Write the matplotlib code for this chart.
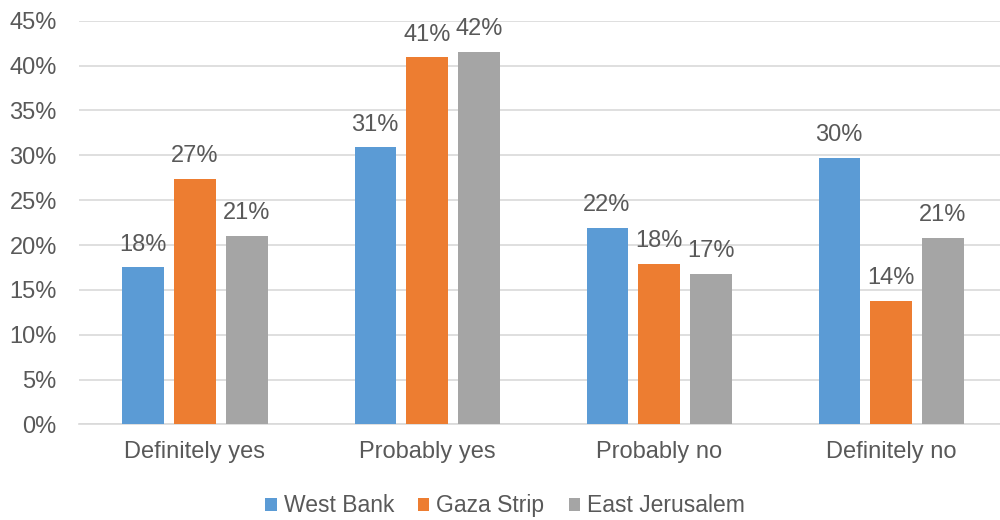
import matplotlib
matplotlib.use("Agg")
import matplotlib.pyplot as plt
import numpy as np

plt.rcParams['font.family'] = ['Liberation Sans', 'DejaVu Sans']

categories = ["Definitely yes", "Probably yes", "Probably no", "Definitely no"]
series = ["West Bank", "Gaza Strip", "East Jerusalem"]
west_bank = [17.5, 30.9, 21.9, 29.7]
gaza_strip = [27.4, 40.9, 17.9, 13.8]
east_jerusalem = [21.0, 41.5, 16.8, 20.8]
wb_labels = ["18%", "31%", "22%", "30%"]
gs_labels = ["27%", "41%", "18%", "14%"]
ej_labels = ["21%", "42%", "17%", "21%"]

colors = ["#5B9BD5", "#ED7D31", "#A5A5A5"]
txt = "#595959"
fs = 17

fig = plt.figure(figsize=(10, 5.2), dpi=100)
ax = fig.add_axes([0.079, 0.1837, 0.928, 0.7765])

x = np.arange(len(categories))
step = 0.224
width = 0.177
data = [west_bank, gaza_strip, east_jerusalem]
labels = [wb_labels, gs_labels, ej_labels]

for j, (vals, labs) in enumerate(zip(data, labels)):
    pos = x + (j - 1) * step
    ax.bar(pos, vals, width, color=colors[j], label=series[j], zorder=3)
    for px, v, lab in zip(pos, vals, labs):
        ax.annotate(lab, (px, v), xytext=(0, 12), textcoords="offset points",
                    ha="center", va="baseline", fontsize=fs, color=txt)

ax.set_xlim(-0.5, 3.5)
ax.set_ylim(0, 45)
ax.set_yticks(np.arange(0, 46, 5))
ax.set_yticklabels([f"{t}%" for t in range(0, 46, 5)])
ax.set_xticks(x)
ax.set_xticklabels(categories)
ax.tick_params(axis="both", length=0, labelsize=fs, labelcolor=txt)
ax.tick_params(axis="y", pad=16)
ax.tick_params(axis="x", pad=12)

ax.grid(axis="y", color="#D9D9D9", linewidth=1.2, zorder=0)
for s in ["top", "right", "left"]:
    ax.spines[s].set_visible(False)
ax.spines["bottom"].set_color("#D9D9D9")
ax.spines["bottom"].set_linewidth(1.2)

fig.legend(loc="center", bbox_to_anchor=(0.505, 0.027), ncol=3, frameon=False,
           fontsize=16.5, labelcolor=txt, handlelength=0.5, handleheight=0.5,
           handletextpad=0.3, columnspacing=1.05)

fig.savefig("out.png", dpi=100)
